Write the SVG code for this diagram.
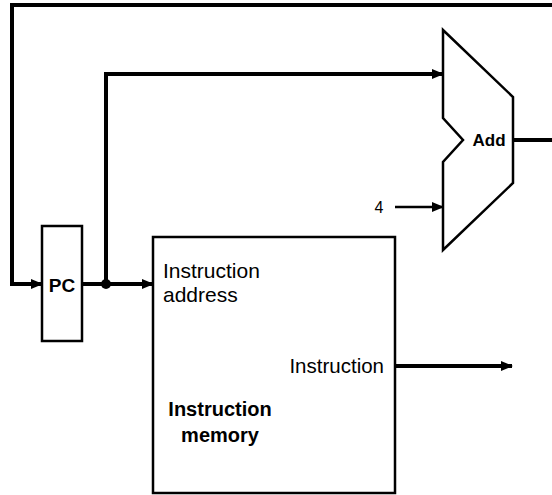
<svg xmlns="http://www.w3.org/2000/svg" width="552" height="495" viewBox="0 0 552 495">
<style>
.wire{fill:none;stroke:#000;stroke-width:4;stroke-linejoin:miter}
.thin{stroke-width:2.5}
.box{fill:#fff;stroke:#000;stroke-width:2.5}
.t{font-family:"Liberation Sans",Arial,sans-serif;fill:#000}
.b{font-weight:bold}
</style>
<defs>
<marker id="arr" markerWidth="12" markerHeight="10" refX="11" refY="5" orient="auto" markerUnits="userSpaceOnUse">
<path d="M0,0 L12,5 L0,10 Z" fill="#000"/>
</marker>
</defs>
<rect width="552" height="495" fill="#fff"/>
<g id="connectors">
<path class="wire" d="M552,5 H12 V284 H42" marker-end="url(#arr)"/>
<path class="wire" d="M82,284 H153" marker-end="url(#arr)"/>
<path class="wire" d="M106,284 V74 H443" marker-end="url(#arr)"/>
<circle cx="106" cy="284" r="5" fill="#000"/>
<path class="wire thin" d="M395,207 H443" marker-end="url(#arr)"/>
<path class="wire" d="M513,140 H552"/>
<path class="wire" d="M395,366 H512" marker-end="url(#arr)"/>
</g>
<g id="pc">
<rect class="box" x="42" y="226" width="40" height="115"/>
<text class="t b" x="62" y="292" font-size="19" text-anchor="middle">PC</text>
</g>
<g id="add">
<path class="box" d="M443,30 L513,97 V183 L443,250 V162 L463,140 L443,118 Z"/>
<text class="t b" x="489" y="146" font-size="17" text-anchor="middle">Add</text>
</g>
<g id="const4">
<text class="t" x="379" y="213" font-size="16" text-anchor="middle">4</text>
</g>
<g id="imem">
<rect class="box" x="153" y="237" width="242" height="256"/>
<text class="t" x="163" y="278" font-size="21">Instruction</text>
<text class="t" x="163" y="302" font-size="21">address</text>
<text class="t" x="384" y="373" font-size="20.5" text-anchor="end">Instruction</text>
<text class="t b" x="220" y="416" font-size="20" text-anchor="middle">Instruction</text>
<text class="t b" x="220" y="442" font-size="20" text-anchor="middle">memory</text>
</g>
</svg>
